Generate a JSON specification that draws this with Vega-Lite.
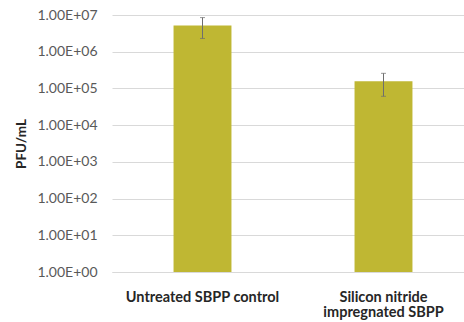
{
  "$schema": "https://vega.github.io/schema/vega-lite/v6.json",
  "autosize": {"type": "none"},
  "padding": {"left": 112, "top": 15, "right": 0, "bottom": 50},
  "width": 352,
  "height": 257,
  "background": "white",
  "config": {"view": {"stroke": null}, "font": "Lato"},
  "data": {
    "values": [
      {"group": "Untreated SBPP control", "pfu": 5200000, "lo": 2300000, "hi": 8500000, "base": 1},
      {"group": "Silicon nitride\nimpregnated SBPP", "pfu": 157000, "lo": 61000, "hi": 258000, "base": 1}
    ]
  },
  "encoding": {
    "x": {
      "field": "group",
      "type": "nominal",
      "sort": null,
      "scale": {"paddingInner": 0.68, "paddingOuter": 0.34, "range": [0, 362]},
      "axis": {
        "title": null,
        "labelAngle": 0,
        "labelFont": "Lato",
        "labelFontSize": 14.5,
        "labelFontWeight": "bold",
        "labelColor": "#262626",
        "labelPadding": 18,
        "labelLineHeight": 15.5,
        "labelExpr": "split(datum.label, '\\n')",
        "ticks": false,
        "domainColor": "#D9D9D9",
        "domainWidth": 1
      }
    }
  },
  "layer": [
    {
      "mark": {"type": "bar", "color": "#BFB733"},
      "encoding": {
        "y": {
          "field": "pfu",
          "type": "quantitative",
          "scale": {"type": "log", "domain": [1, 10000000], "nice": false},
          "axis": {
            "title": "PFU/mL",
            "titleFont": "Lato",
            "titleFontSize": 13.5,
            "titleFontWeight": "bold",
            "titleColor": "#262626",
            "titlePadding": 8,
            "values": [1, 10, 100, 1000, 10000, 100000, 1000000, 10000000],
            "labelExpr": "'1.00E+0' + round(log(datum.value)/LN10)",
            "labelFont": "Lato",
            "labelFontSize": 14,
            "labelColor": "#595959",
            "labelPadding": 15,
            "ticks": false,
            "domain": false,
            "gridColor": "#D9D9D9",
            "gridWidth": 1
          }
        },
        "y2": {"field": "base"}
      }
    },
    {
      "mark": {"type": "rule", "color": "#6E6E6E", "strokeWidth": 1},
      "encoding": {
        "y": {"field": "lo", "type": "quantitative"},
        "y2": {"field": "hi"}
      }
    },
    {
      "mark": {"type": "tick", "color": "#6E6E6E", "size": 5, "thickness": 1},
      "encoding": {"y": {"field": "lo", "type": "quantitative"}}
    },
    {
      "mark": {"type": "tick", "color": "#6E6E6E", "size": 5, "thickness": 1},
      "encoding": {"y": {"field": "hi", "type": "quantitative"}}
    }
  ]
}
